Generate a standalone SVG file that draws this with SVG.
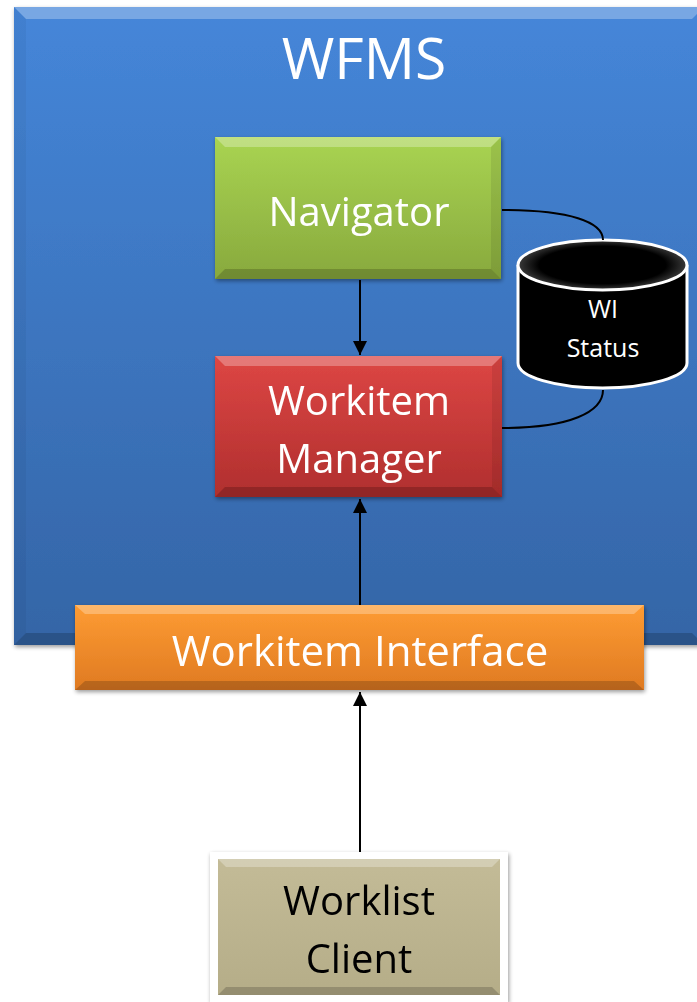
<svg xmlns="http://www.w3.org/2000/svg" width="697" height="1002" viewBox="0 0 697 1002">
<defs>
<style>
.t{font-family:"Open Sans","Liberation Sans",sans-serif;text-anchor:middle}
.w{fill:#fff}
.k{fill:#000}
.ln{fill:none;stroke:#000;stroke-width:2}
.hi{fill:#fff;opacity:0.28}
.sh{fill:#000;opacity:0.18}
</style>
<linearGradient id="gBlue" x1="0" y1="0" x2="0" y2="1"><stop offset="0" stop-color="#4586d9"/><stop offset="1" stop-color="#3465a6"/></linearGradient>
<linearGradient id="gGreen" x1="0" y1="0" x2="0" y2="1"><stop offset="0" stop-color="#a9d452"/><stop offset="1" stop-color="#88a93d"/></linearGradient>
<linearGradient id="gRed" x1="0" y1="0" x2="0" y2="1"><stop offset="0" stop-color="#dd4644"/><stop offset="1" stop-color="#b02f2e"/></linearGradient>
<linearGradient id="gOrange" x1="0" y1="0" x2="0" y2="1"><stop offset="0" stop-color="#fe9c33"/><stop offset="1" stop-color="#df7a22"/></linearGradient>
<linearGradient id="gTan" x1="0" y1="0" x2="0" y2="1"><stop offset="0" stop-color="#c3bb97"/><stop offset="1" stop-color="#b5ad88"/></linearGradient>
<radialGradient id="gTop" cx="0.5" cy="0.5" r="0.5"><stop offset="0.75" stop-color="#000"/><stop offset="1" stop-color="#3a3a3a"/></radialGradient>
<filter id="shadow" x="-10%" y="-10%" width="120%" height="120%"><feGaussianBlur in="SourceAlpha" stdDeviation="2"/><feOffset dx="1" dy="2"/><feComponentTransfer><feFuncA type="linear" slope="0.4"/></feComponentTransfer><feMerge><feMergeNode/><feMergeNode in="SourceGraphic"/></feMerge></filter>
<marker id="arr" viewBox="0 0 10 10" refX="10" refY="5" markerWidth="7" markerHeight="7" orient="auto"><path d="M0,0 L10,5 L0,10 z" fill="#000"/></marker>
</defs>

<g id="wfms" filter="url(#shadow)">
<rect x="14" y="7" width="690" height="638" fill="url(#gBlue)"/>
<polygon class="hi" points="14,7 704,7 692,19 26,19"/>
<polygon class="sh" points="14,645 704,645 692,633 26,633"/>
<polygon fill="#000" opacity="0.04" points="14,7 26,19 26,633 14,645"/>
<text class="t w" x="364" y="79" font-size="57">WFMS</text>
</g>

<g id="navigator" filter="url(#shadow)">
<rect x="215" y="137" width="286" height="142" fill="url(#gGreen)"/>
<polygon class="hi" points="215,137 501,137 491,147 225,147"/>
<polygon class="sh" points="215,279 501,279 491,269 225,269"/>
<polygon fill="#000" opacity="0.08" points="501,137 501,279 491,269 491,147"/>
<text class="t w" x="359" y="226" font-size="40">Navigator</text>
</g>

<g id="workitem-manager" filter="url(#shadow)">
<rect x="215" y="356" width="287" height="141" fill="url(#gRed)"/>
<polygon class="hi" points="215,356 502,356 492,366 225,366"/>
<polygon class="sh" points="215,497 502,497 492,487 225,487"/>
<polygon fill="#000" opacity="0.08" points="502,356 502,497 492,487 492,366"/>
<text class="t w" x="359" y="415" font-size="40">Workitem</text>
<text class="t w" x="359" y="473" font-size="40">Manager</text>
</g>

<g id="wi-status">
<path d="M518,265 L518,363 A84.5,25 0 0 0 687,363 L687,265" fill="#000" stroke="#fff" stroke-width="3"/>
<ellipse cx="602.5" cy="265" rx="84.5" ry="25" fill="url(#gTop)" stroke="#fff" stroke-width="3"/>
<text class="t w" x="603" y="318" font-size="25">WI</text>
<text class="t w" x="603" y="357" font-size="25">Status</text>
</g>

<g id="workitem-interface" filter="url(#shadow)">
<rect x="75" y="605" width="569" height="85" fill="url(#gOrange)"/>
<polygon class="hi" points="75,605 644,605 634,614 85,614"/>
<polygon class="sh" points="75,690 644,690 634,681 85,681"/>
<text class="t w" x="360" y="666" font-size="42">Workitem Interface</text>
</g>

<g id="worklist-client" filter="url(#shadow)">
<rect x="210" y="852" width="298" height="150" fill="#fff"/>
<rect x="218" y="859" width="282" height="136" fill="url(#gTan)"/>
<polygon class="hi" points="218,859 500,859 492,867 226,867"/>
<polygon class="sh" points="218,995 500,995 492,987 226,987"/>
<text class="t k" x="359" y="915" font-size="40">Worklist</text>
<text class="t k" x="359" y="973" font-size="40">Client</text>
</g>

<g id="connectors">
<line class="ln" x1="360" y1="280" x2="360" y2="355" marker-end="url(#arr)"/>
<line class="ln" x1="360" y1="605" x2="360" y2="499" marker-end="url(#arr)"/>
<line class="ln" x1="360" y1="852" x2="360" y2="692" marker-end="url(#arr)"/>
<path class="ln" d="M502,210 C570,210 603,222 603,240"/>
<path class="ln" d="M603,390 C603,412 570,428 502,428"/>
</g>
</svg>
